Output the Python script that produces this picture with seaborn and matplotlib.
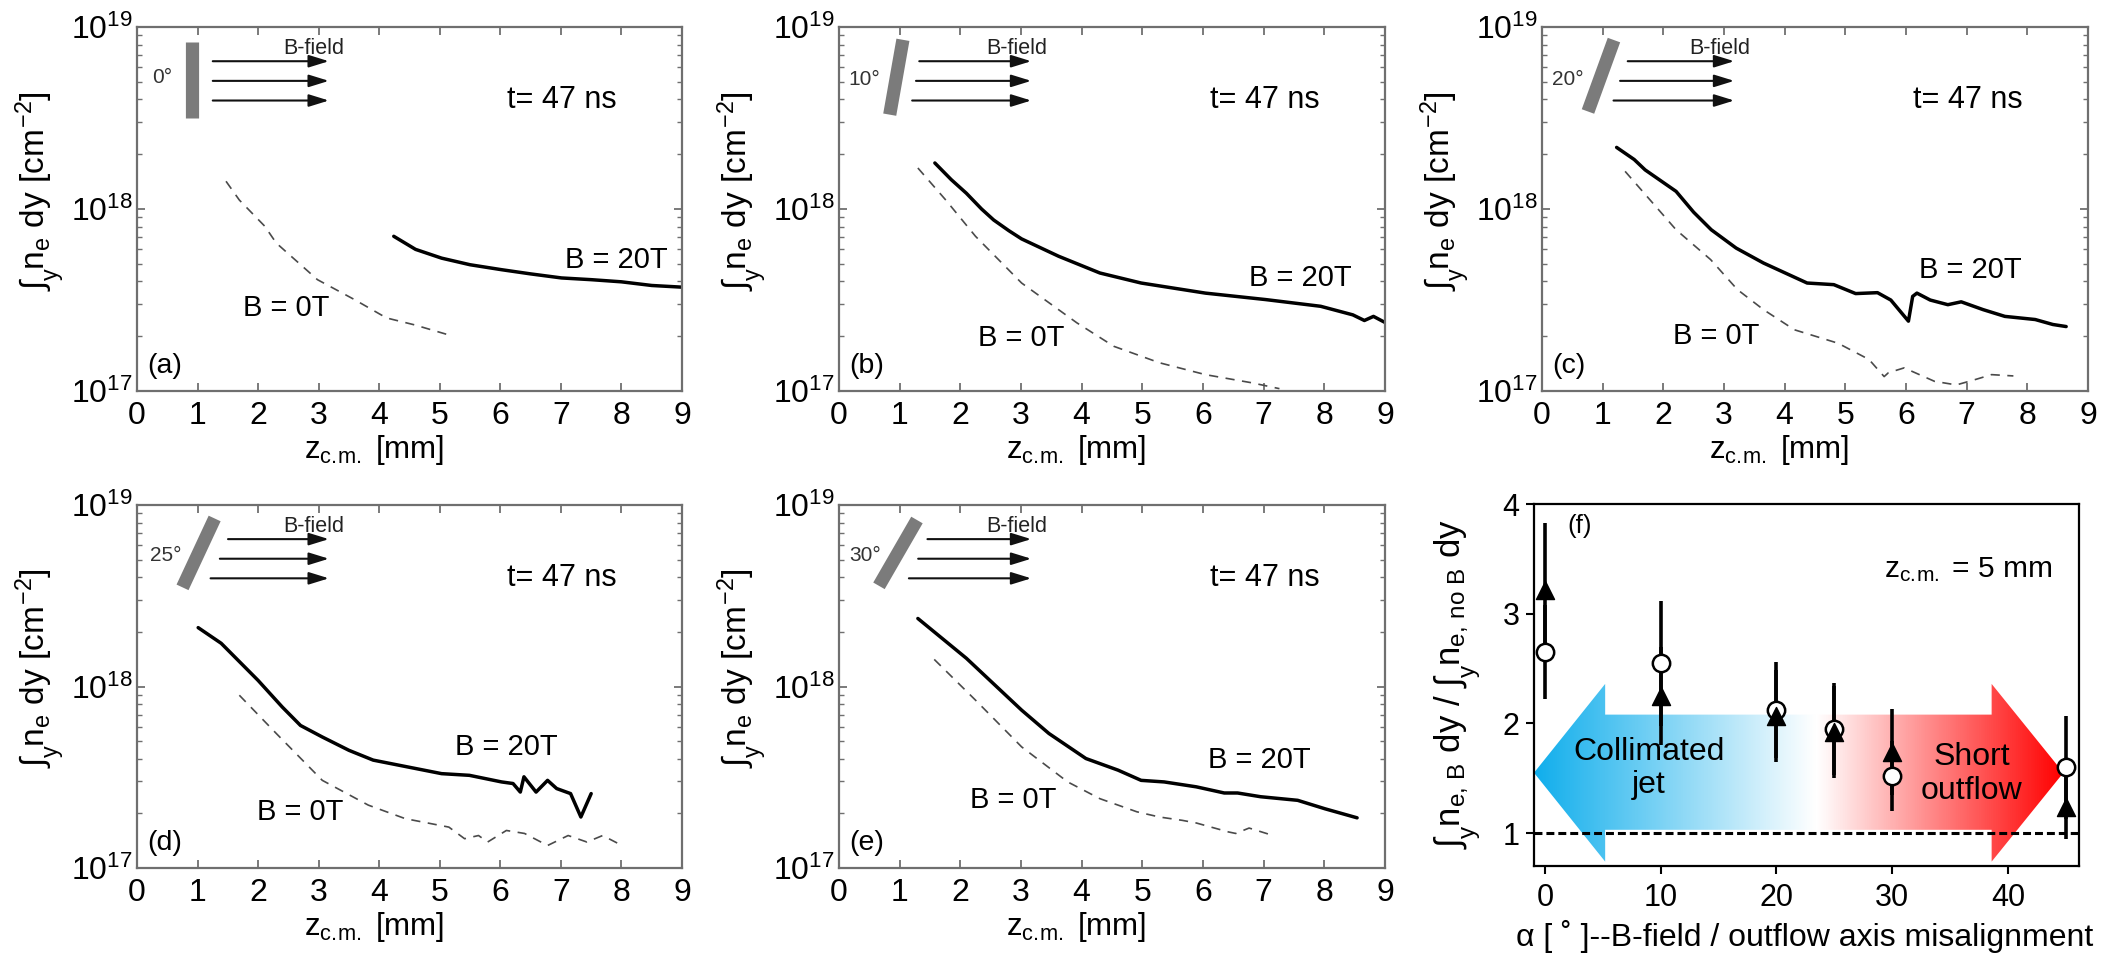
import matplotlib
matplotlib.use("Agg")
import matplotlib.pyplot as plt
import seaborn as sns
import numpy as np
from matplotlib.patches import Polygon
from matplotlib.lines import Line2D
from matplotlib.colors import LinearSegmentedColormap
from matplotlib.ticker import LogLocator, NullFormatter, FixedLocator

# ---------------- data ----------------
# panel (a) 0 deg
z_a_0T = [1.47, 1.69, 2.11, 2.30, 2.98, 3.59, 4.12, 4.58, 5.22]
n_a_0T = [1.42e18, 1.12e18, 8.04e17, 6.50e17, 4.09e17, 3.18e17, 2.52e17, 2.31e17, 2.00e17]
z_a_20T = [4.24, 4.60, 5.03, 5.50, 6.02, 6.50, 7.01, 7.50, 8.00, 8.50, 9.00]
n_a_20T = [7.08e17, 6.00e17, 5.37e17, 4.94e17, 4.64e17, 4.40e17, 4.18e17, 4.09e17, 3.98e17, 3.80e17, 3.72e17]

# panel (b) 10 deg
z_b_0T = [1.30, 1.76, 2.25, 3.01, 3.92, 4.53, 5.28, 6.04, 6.80, 7.26]
n_b_0T = [1.68e18, 1.12e18, 7.08e17, 3.92e17, 2.37e17, 1.76e17, 1.43e17, 1.23e17, 1.11e17, 1.03e17]
z_b_20T = [1.58, 1.85, 2.10, 2.35, 2.55, 2.80, 3.01, 3.62, 4.30, 4.98, 6.04, 7.03, 7.94, 8.47, 8.66,
           8.81, 9.00]
n_b_20T = [1.79e18, 1.45e18, 1.22e18, 1.00e18, 8.70e17, 7.60e17, 6.85e17, 5.50e17, 4.45e17, 3.92e17,
           3.45e17, 3.18e17, 2.92e17, 2.62e17, 2.44e17, 2.57e17, 2.38e17]

# panel (c) 20 deg
z_c_0T = [1.37, 2.21, 2.78, 3.22, 3.65, 4.16, 4.88, 5.39, 5.64, 5.71, 5.97, 6.47, 6.83, 7.12, 7.41, 7.77]
n_c_0T = [1.61e18, 7.69e17, 5.27e17, 3.61e17, 2.80e17, 2.17e17, 1.83e17, 1.49e17, 1.20e17, 1.26e17,
          1.34e17, 1.13e17, 1.08e17, 1.15e17, 1.23e17, 1.21e17]
z_c_20T = [1.23, 1.52, 1.70, 2.21, 2.50, 2.79, 3.20, 3.65, 4.37, 4.81, 5.17, 5.53, 5.75, 6.04, 6.11,
           6.18, 6.40, 6.69, 6.91, 7.27, 7.63, 8.13, 8.42, 8.64]
n_c_20T = [2.18e18, 1.87e18, 1.64e18, 1.25e18, 9.60e17, 7.69e17, 6.10e17, 5.05e17, 3.92e17, 3.84e17,
           3.43e17, 3.47e17, 3.16e17, 2.42e17, 3.31e17, 3.45e17, 3.16e17, 2.98e17, 3.09e17, 2.80e17,
           2.57e17, 2.47e17, 2.32e17, 2.26e17]

# panel (d) 25 deg
z_d_0T = [1.69, 2.30, 3.06, 3.82, 4.43, 5.15, 5.41, 5.64, 5.79, 6.10, 6.40, 6.78, 7.12, 7.43, 7.69, 8.01]
n_d_0T = [8.95e17, 5.51e17, 3.04e17, 2.22e17, 1.87e17, 1.68e17, 1.45e17, 1.51e17, 1.39e17, 1.61e17,
          1.55e17, 1.33e17, 1.51e17, 1.39e17, 1.51e17, 1.33e17]
z_d_20T = [1.01, 1.39, 2.00, 2.40, 2.70, 3.06, 3.50, 3.90, 5.03, 5.49, 6.02, 6.21, 6.33, 6.39, 6.59,
           6.78, 6.93, 7.16, 7.33, 7.50]
n_d_20T = [2.11e18, 1.73e18, 1.08e18, 7.70e17, 6.10e17, 5.27e17, 4.45e17, 3.93e17, 3.31e17, 3.24e17,
           2.98e17, 2.92e17, 2.62e17, 3.18e17, 2.62e17, 3.04e17, 2.74e17, 2.57e17, 1.91e17, 2.57e17]

# panel (e) 30 deg
z_e_0T = [1.57, 2.25, 3.01, 3.77, 4.30, 4.91, 5.28, 5.66, 5.89, 6.42, 6.54, 6.76, 7.10]
n_e_0T = [1.41e18, 8.41e17, 4.65e17, 2.98e17, 2.41e17, 2.04e17, 1.91e17, 1.83e17, 1.77e17, 1.58e17,
          1.55e17, 1.66e17, 1.53e17]
z_e_20T = [1.30, 2.10, 3.01, 3.46, 4.07, 4.60, 4.98, 5.36, 5.89, 6.35, 6.57, 6.95, 7.56, 8.01, 8.54]
n_e_20T = [2.37e18, 1.43e18, 7.41e17, 5.51e17, 4.01e17, 3.46e17, 3.04e17, 2.98e17, 2.80e17, 2.59e17,
           2.59e17, 2.47e17, 2.36e17, 2.12e17, 1.89e17]

# panel (f)
alpha = [0, 10, 20, 25, 30, 45]
ratio_tri = [3.22, 2.25, 2.07, 1.92, 1.74, 1.24]
err_tri = [0.61, 0.45, 0.42, 0.42, 0.39, 0.29]
ratio_circ = [2.65, 2.55, 2.12, 1.95, 1.52, 1.60]
err_circ = [0.43, 0.57, 0.44, 0.42, 0.32, 0.47]

x_ticks_density = [0, 1, 2, 3, 4, 5, 6, 7, 8, 9]
y_ticks_density = [1e17, 1e18, 1e19]
x_ticks_f = [0, 10, 20, 30, 40]
y_ticks_f = [1, 2, 3, 4]

# ---------------- style ----------------
sns.set_theme(style="ticks")
plt.rcParams.update({
    "font.family": ["Liberation Sans", "DejaVu Sans"],
    "mathtext.fontset": "custom",
    "mathtext.rm": "Liberation Sans",
    "mathtext.it": "Liberation Sans",
    "mathtext.bf": "Liberation Sans:bold",
    "mathtext.sf": "Liberation Sans",
    "mathtext.fallback": "stixsans",
    "axes.facecolor": "white",
    "figure.facecolor": "white",
    "text.color": "black",
    "axes.labelcolor": "black",
    "xtick.color": "#6f6f6f",
    "ytick.color": "#6f6f6f",
    "xtick.labelcolor": "black",
    "ytick.labelcolor": "black",
})

W, H = 2117, 955
fig = plt.figure(figsize=(W / 100, H / 100), dpi=100)


def add_axes_px(l, t, r, b):
    return fig.add_axes([l / W, 1 - b / H, (r - l) / W, (b - t) / H])


ARROW_Y = [0.906, 0.852, 0.798]
ARROW_X1 = 0.352
BAR_LEN_PX = 76
ZCM = r"$\mathdefault{z_{c.\!m.}}$"

panels = [
    dict(box=(137, 27, 682, 391), tag="(a)", ang=0, z0=z_a_0T, n0=n_a_0T, z20=z_a_20T, n20=n_a_20T,
         bar=(0.100, 0.855), ax0=[0.139, 0.139, 0.139], deg=(0.046, 0.860),
         b20=(0.880, 0.360), b0=(0.273, 0.228)),
    dict(box=(839, 27, 1385, 391), tag="(b)", ang=10, z0=z_b_0T, n0=n_b_0T, z20=z_b_20T, n20=n_b_20T,
         bar=(0.105, 0.862), ax0=[0.147, 0.141, 0.134], deg=(0.046, 0.855),
         b20=(0.844, 0.310), b0=(0.334, 0.146)),
    dict(box=(1542, 27, 2088, 391), tag="(c)", ang=20, z0=z_c_0T, n0=n_c_0T, z20=z_c_20T, n20=n_c_20T,
         bar=(0.108, 0.866), ax0=[0.157, 0.143, 0.131], deg=(0.048, 0.855),
         b20=(0.785, 0.333), b0=(0.319, 0.150)),
    dict(box=(137, 505, 682, 868), tag="(d)", ang=25, z0=z_d_0T, n0=n_d_0T, z20=z_d_20T, n20=n_d_20T,
         bar=(0.113, 0.868), ax0=[0.167, 0.152, 0.135], deg=(0.053, 0.862),
         b20=(0.678, 0.334), b0=(0.300, 0.154)),
    dict(box=(839, 505, 1385, 868), tag="(e)", ang=30, z0=z_e_0T, n0=n_e_0T, z20=z_e_20T, n20=n_e_20T,
         bar=(0.108, 0.868), ax0=[0.162, 0.145, 0.128], deg=(0.048, 0.862),
         b20=(0.770, 0.297), b0=(0.319, 0.188)),
]

for p in panels:
    l, t, r, b = p["box"]
    ax = add_axes_px(l, t, r, b)
    axw, axh = r - l, b - t
    sns.lineplot(x=p["z0"], y=p["n0"], ax=ax, color="#4a4a4a", lw=1.2, estimator=None, sort=False,
                 linestyle=(0, (5.5, 4.5)))
    sns.lineplot(x=p["z20"], y=p["n20"], ax=ax, color="black", lw=2.5, estimator=None, sort=False)
    ax.set_yscale("log")
    ax.set_xlim(0, 9)
    ax.set_ylim(1e17, 1e19)
    ax.set_xticks(x_ticks_density)
    ax.yaxis.set_major_locator(FixedLocator(y_ticks_density))
    ax.yaxis.set_minor_locator(LogLocator(base=10, subs=np.arange(2, 10)))
    ax.yaxis.set_minor_formatter(NullFormatter())
    ax.tick_params(which="both", direction="in", top=True, right=True, labelsize=23)
    ax.tick_params(axis="x", which="major", length=6, width=1.3, pad=7)
    ax.tick_params(axis="y", which="major", length=6, width=1.3, pad=3)
    ax.tick_params(axis="y", which="minor", length=3.5, width=1.0)
    for s in ax.spines.values():
        s.set_color("#6f6f6f")
        s.set_linewidth(1.6)
    ax.set_xlabel(ZCM + " [mm]", fontsize=22.5, va="center", ha="center")
    ax.xaxis.set_label_coords(0.435, -0.163)
    ax.set_ylabel(r"$\int_y n_e\ dy\ [cm^{-2}]$", fontsize=24, va="center", ha="center")
    ax.yaxis.set_label_coords(-0.177, 0.55)

    # texts
    ax.text(0.78, 0.80, "t= 47 ns", transform=ax.transAxes, fontsize=22, ha="center", va="center")
    ax.text(*p["b20"], "B = 20T", transform=ax.transAxes, fontsize=21, ha="center", va="center")
    ax.text(*p["b0"], "B = 0T", transform=ax.transAxes, fontsize=21, ha="center", va="center")
    ax.text(0.05, 0.068, p["tag"], transform=ax.transAxes, fontsize=20.5, ha="center", va="center")

    # inset sketch: target plate + B-field arrows
    cx, cy = p["bar"]
    a = np.deg2rad(p["ang"])
    dx = 0.5 * BAR_LEN_PX * np.sin(a) / axw
    dy = 0.5 * BAR_LEN_PX * np.cos(a) / axh
    ax.add_line(Line2D([cx - dx, cx + dx], [cy - dy, cy + dy], transform=ax.transAxes,
                       color="#7b7b7b", lw=9.5, solid_capstyle="butt", zorder=3))
    for x0, y in zip(p["ax0"], ARROW_Y):
        ax.annotate("", xy=(ARROW_X1, y), xytext=(x0, y), xycoords="axes fraction",
                    textcoords="axes fraction",
                    arrowprops=dict(arrowstyle="-|>,head_length=0.55,head_width=0.17",
                                    color="#111111", lw=1.5, mutation_scale=22,
                                    shrinkA=0, shrinkB=0))
    ax.text(0.325, 0.94, "B-field", transform=ax.transAxes, fontsize=15.5, ha="center",
            va="center", color="#222222")
    ax.text(*p["deg"], f"{p['ang']}°", transform=ax.transAxes, fontsize=15, ha="center",
            va="center", color="#333333")

# ---------------- panel (f) ----------------
axf = add_axes_px(1534, 504, 2079, 866)
XLIM_F = (-0.95, 46.15)
YLIM_F = (0.7, 4.0)

# double-headed gradient arrow (decoration)
arrow_poly = [(-0.95, 1.55), (5.2, 2.36), (5.2, 2.08), (38.6, 2.08), (38.6, 2.36), (44.8, 1.55),
              (38.6, 0.74), (38.6, 1.03), (5.2, 1.03), (5.2, 0.74)]
cmap = LinearSegmentedColormap.from_list(
    "jet_outflow", [(0.0, "#10aeec"), (0.53, "#ffffff"), (0.535, "#ffffff"), (1.0, "#ff0000")])
grad = np.linspace(0, 1, 800).reshape(1, -1)
im = axf.imshow(grad, cmap=cmap, extent=[-0.95, 44.8, 0.74, 2.36], aspect="auto",
                origin="lower", zorder=1, interpolation="bilinear")
clip = Polygon(arrow_poly, closed=True, transform=axf.transData, facecolor="none",
               edgecolor="none")
axf.add_patch(clip)
im.set_clip_path(clip)

axf.axhline(1, color="black", lw=2.2, linestyle=(0, (2.6, 1.3)), zorder=2)

axf.errorbar(alpha, ratio_circ, yerr=err_circ, fmt="none", ecolor="black", elinewidth=2.6,
             capsize=0, zorder=3)
axf.errorbar(alpha, ratio_tri, yerr=err_tri, fmt="none", ecolor="black", elinewidth=2.6,
             capsize=0, zorder=3)
sns.scatterplot(x=alpha, y=ratio_circ, marker="o", s=12.5 ** 2, color="white", edgecolor="black",
                linewidth=1.8, ax=axf, zorder=5)
sns.scatterplot(x=alpha, y=ratio_tri, marker="^", s=13 ** 2, color="black", edgecolor="black",
                linewidth=1.0, ax=axf, zorder=6)

axf.set_xlim(*XLIM_F)
axf.set_ylim(*YLIM_F)
axf.set_xticks(x_ticks_f)
axf.set_yticks(y_ticks_f)
axf.tick_params(direction="out", length=6, width=1.5, color="black", labelsize=22)
axf.tick_params(axis="x", pad=6.5)
axf.tick_params(axis="y", pad=4.5)
for s in axf.spines.values():
    s.set_color("black")
    s.set_linewidth(1.6)

axf.text(9.0, 1.59, "Collimated\njet", fontsize=23, ha="center", va="center", zorder=7,
         linespacing=1.15)
axf.text(36.9, 1.54, "Short\noutflow", fontsize=23, ha="center", va="center", zorder=7,
         linespacing=1.15)
axf.text(3.0, 3.80, "(f)", fontsize=18.5, ha="center", va="center")
axf.text(36.6, 3.40, ZCM + " = 5 mm", fontsize=21.5, ha="center", va="center")

axf.set_xlabel("α [ ˚ ]--B-field / outflow axis misalignment", fontsize=23, va="center",
               ha="center")
axf.xaxis.set_label_coords(0.497, -0.196)
axf.set_ylabel(r"$\int_y n_{e,\,B}\ dy\ /\ \int_y n_{e,\,no\ B}\ dy$", fontsize=25, va="center",
               ha="center")
axf.yaxis.set_label_coords(-0.141, 0.504)

fig.savefig("out.png", dpi=100, facecolor="white")
